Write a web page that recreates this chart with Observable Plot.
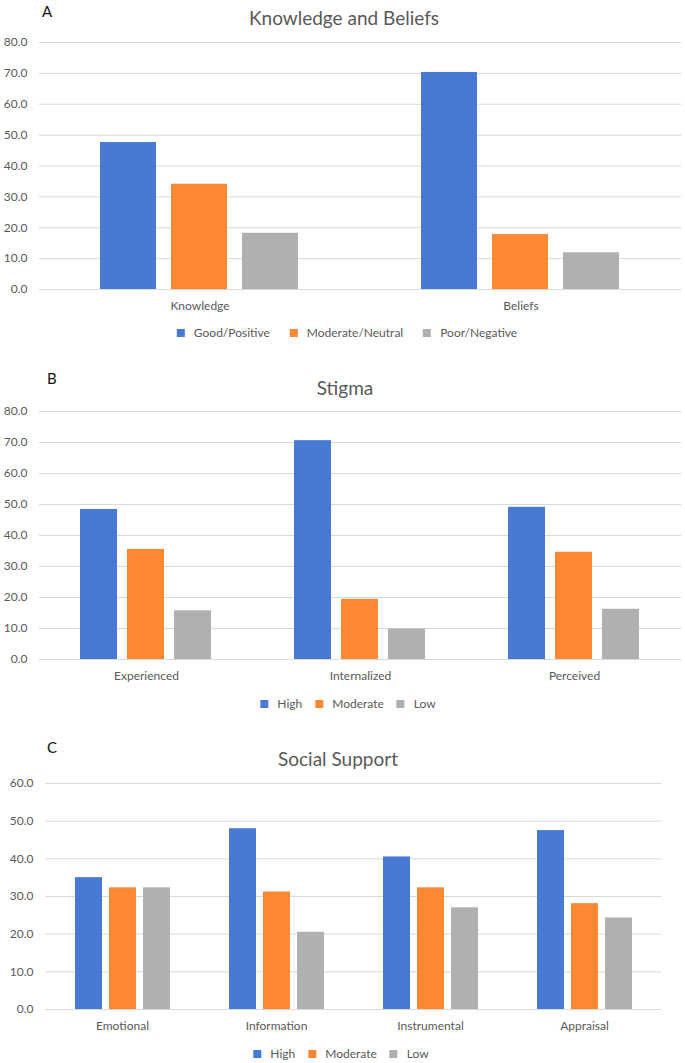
<!DOCTYPE html>
<html>
<head>
<meta charset="utf-8">
<script src="https://cdn.jsdelivr.net/npm/d3@7"></script>
<script src="https://cdn.jsdelivr.net/npm/@observablehq/plot@0.6"></script>
<style>
  html, body { margin: 0; padding: 0; background: #fff; }
  #root { position: relative; width: 685px; height: 1063px; font-family: Lato, "Open Sans", sans-serif; color: #595959; overflow: hidden; }
  .abs { position: absolute; }
  .letter { font-size: 15px; color: #111; line-height: 1; transform: translateY(-50%); }
  .title { font-size: 19px; line-height: 1; white-space: nowrap; transform: translate(-50%, -50%); }
  .legend { display: flex; align-items: center; font-size: 12px; line-height: 1; white-space: nowrap; transform: translate(-50%, -50%); }
  .legend .item { display: flex; align-items: center; }
  .legend .sw { width: 8px; height: 8px; margin-right: 9px; }
  svg { overflow: visible; }
</style>
</head>
<body>
<div id="root"></div>
<script>
// ---------- data ----------
const colors = ["#487AD4", "#FD8833", "#B0B0B0"];

const catsA = ["Knowledge", "Beliefs"];
const seriesA = ["Good/Positive", "Moderate/Neutral", "Poor/Negative"];
const goodA = [47.6, 70.3];
const moderateA = [34.1, 17.8];
const poorA = [18.2, 11.9];
const ticksA = [0, 10, 20, 30, 40, 50, 60, 70, 80];

const catsB = ["Experienced", "Internalized", "Perceived"];
const seriesB = ["High", "Moderate", "Low"];
const highB = [48.4, 70.6, 49.1];
const moderateB = [35.5, 19.4, 34.6];
const lowB = [15.7, 9.8, 16.2];
const ticksB = [0, 10, 20, 30, 40, 50, 60, 70, 80];

const catsC = ["Emotional", "Information", "Instrumental", "Appraisal"];
const seriesC = ["High", "Moderate", "Low"];
const highC = [35.0, 48.0, 40.5, 47.5];
const moderateC = [32.3, 31.2, 32.3, 28.1];
const lowC = [32.3, 20.5, 27.0, 24.3];
const ticksC = [0, 10, 20, 30, 40, 50, 60];

function table(cats, series, arrays) {
  const rows = [];
  cats.forEach((c, i) => series.forEach((s, j) => rows.push({category: c, series: s, value: arrays[j][i]})));
  return rows;
}

const root = document.getElementById("root");

function addText(cls, text, left, top) {
  const d = document.createElement("div");
  d.className = "abs " + cls;
  d.textContent = text;
  d.style.left = left + "px";
  d.style.top = top + "px";
  root.appendChild(d);
}

function addLegend(series, cx, cy, itemGap) {
  const d = document.createElement("div");
  d.className = "abs legend";
  d.style.left = cx + "px";
  d.style.top = cy + "px";
  series.forEach((s, i) => {
    const it = document.createElement("div");
    it.className = "item";
    if (i > 0) it.style.marginLeft = itemGap + "px";
    const sw = document.createElement("span");
    sw.className = "sw";
    sw.style.background = colors[i];
    const t = document.createElement("span");
    t.textContent = s;
    it.appendChild(sw); it.appendChild(t);
    d.appendChild(it);
  });
  root.appendChild(d);
}

function panel({cats, series, data, ticks, top, height, marginTop, marginLeft, marginRight}) {
  const chart = Plot.plot({
    width: 685,
    height,
    marginTop,
    marginBottom: 30,
    marginLeft,
    marginRight,
    style: {fontFamily: "Lato, 'Open Sans', sans-serif", fontSize: "12px", color: "#595959", background: "transparent"},
    fx: {domain: cats, padding: 0, label: null, axis: "bottom", tickSize: 0, tickPadding: 12},
    x: {domain: series, paddingInner: 0.21, paddingOuter: 0.86, axis: null},
    y: {domain: [ticks[0], ticks[ticks.length - 1]], axis: null},
    color: {domain: series, range: colors},
    marks: [
      Plot.gridY(ticks, {stroke: "#d9d9d9", strokeOpacity: 1, strokeWidth: 1}),
      Plot.axisY(ticks, {tickSize: 0, tickPadding: 12, tickFormat: d3.format(".1f"), label: null, fill: "#595959"}),
      Plot.barY(data, {fx: "category", x: "series", y: "value", fill: "series"})
    ]
  });
  chart.style.position = "absolute";
  chart.style.left = "0px";
  chart.style.top = top + "px";
  root.appendChild(chart);
}

// Panel A
addText("letter", "A", 42, 11);
addText("title", "Knowledge and Beliefs", 344, 17);
panel({cats: catsA, series: seriesA, data: table(catsA, seriesA, [goodA, moderateA, poorA]), ticks: ticksA,
       top: 0, height: 319, marginTop: 42, marginLeft: 38, marginRight: 4});
addLegend(seriesA, 347, 333, 20);

// Panel B
addText("letter", "B", 47, 378);
addText("title", "Stigma", 345, 387);
panel({cats: catsB, series: seriesB, data: table(catsB, seriesB, [highB, moderateB, lowB]), ticks: ticksB,
       top: 370, height: 319, marginTop: 41, marginLeft: 38, marginRight: 4});
addLegend(seriesB, 348, 704, 13);

// Panel C
addText("letter", "C", 47, 747);
addText("title", "Social Support", 338, 758);
panel({cats: catsC, series: seriesC, data: table(catsC, seriesC, [highC, moderateC, lowC]), ticks: ticksC,
       top: 770, height: 269, marginTop: 13, marginLeft: 45, marginRight: 24});
addLegend(seriesC, 341, 1054, 13);
</script>
</body>
</html>
